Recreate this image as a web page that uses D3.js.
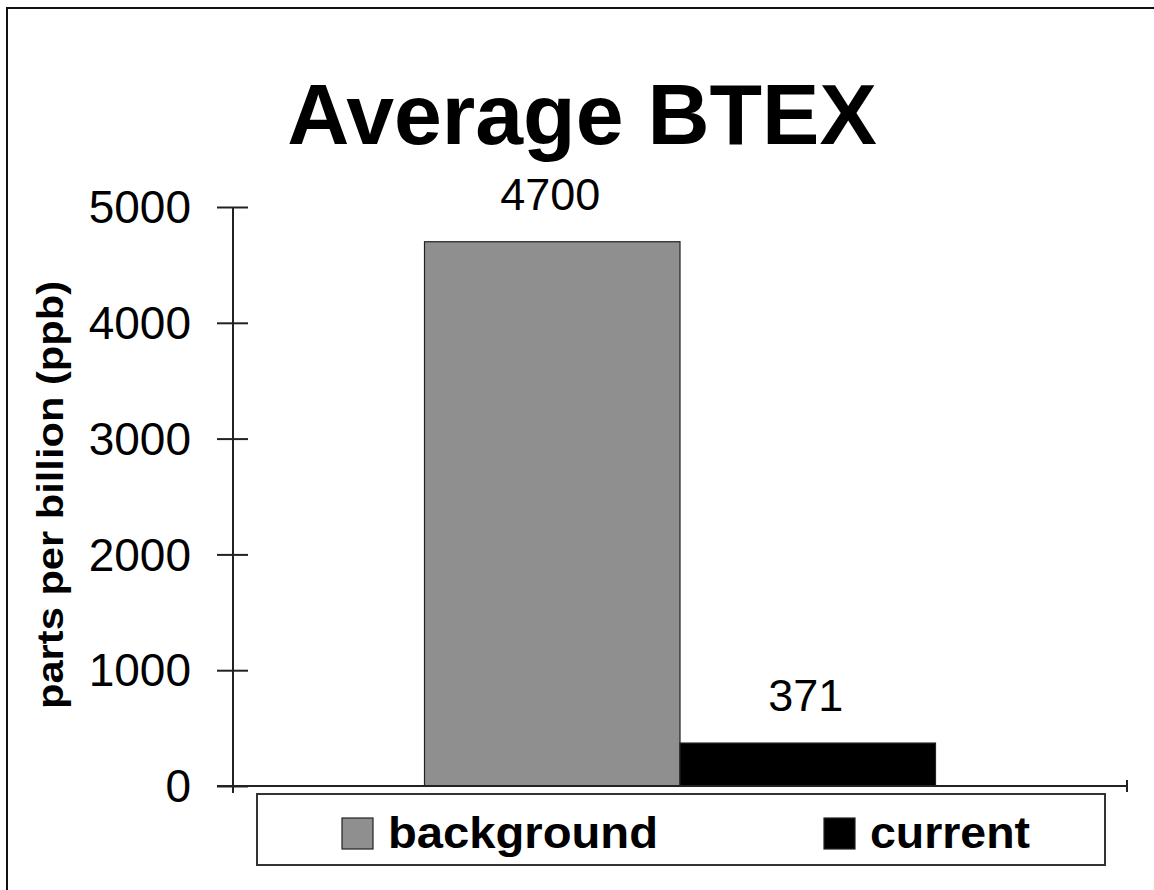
<!DOCTYPE html>
<html>
<head>
<meta charset="utf-8">
<script src="https://cdn.jsdelivr.net/npm/d3@7"></script>
<style>
  html, body { margin: 0; padding: 0; background: #fff; }
  svg { display: block; font-family: "Liberation Sans", Arial, sans-serif; }
</style>
</head>
<body>
<svg id="chart" width="1154" height="890"></svg>
<script>
const title = "Average BTEX";
const yAxisLabel = "parts per billion (ppb)";
const categories = [""];
const series = ["background", "current"];
const values = [4700, 371];
const seriesColors = ["#8f8f8f", "#000000"];
const yTicks = [0, 1000, 2000, 3000, 4000, 5000];

const svg = d3.select("#chart");
const W = 1154, H = 890;
const plot = { left: 233, right: 1127, top: 207, bottom: 786 };

// outer frame (only top & left visible)
svg.append("rect").attr("x", 7).attr("y", 8).attr("width", W + 20).attr("height", H + 20)
  .attr("fill", "#fff").attr("stroke", "#111").attr("stroke-width", 2);

const y = d3.scaleLinear().domain([0, 5000]).range([plot.bottom, plot.top]);
const x0 = d3.scaleBand().domain(categories).range([plot.left, plot.right]).padding(0.2726);
const x1 = d3.scaleBand().domain(series).range([0, x0.bandwidth()]).padding(0);
const color = d3.scaleOrdinal().domain(series).range(seriesColors);

// title
svg.append("text").attr("x", 582).attr("y", 144).attr("text-anchor", "middle")
  .attr("font-size", 86).attr("font-weight", "bold").attr("fill", "#000").text(title);

// y axis label
svg.append("text").attr("transform", "translate(63,495) rotate(-90)")
  .attr("text-anchor", "middle").attr("font-size", 37).attr("font-weight", "bold")
  .attr("textLength", 428).attr("lengthAdjust", "spacingAndGlyphs")
  .attr("fill", "#000").text(yAxisLabel);

// bars
const data = series.map((s, i) => ({ s, v: values[i] }));
const g = svg.append("g").attr("transform", `translate(${x0("")},0)`);
g.selectAll("rect").data(data).join("rect")
  .attr("x", d => x1(d.s)).attr("y", d => y(d.v))
  .attr("width", x1.bandwidth()).attr("height", d => y(0) - y(d.v))
  .attr("fill", d => color(d.s)).attr("stroke", "#222").attr("stroke-width", 1.2);
g.selectAll("text.val").data(data).join("text").attr("class", "val")
  .attr("x", d => x1(d.s) + x1.bandwidth() / 2 - 2).attr("y", d => y(d.v) - 32)
  .attr("text-anchor", "middle").attr("font-size", 45).attr("fill", "#000")
  .text(d => d.v);

// y axis
const yAxis = d3.axisLeft(y).tickValues(yTicks).tickSize(16).tickPadding(26).tickFormat(d3.format("d"));
const yg = svg.append("g").attr("transform", `translate(${plot.left},0)`).call(yAxis);
yg.select(".domain").attr("d", `M0,${plot.top}V${plot.bottom + 7}`).attr("stroke", "#222").attr("stroke-width", 2);
yg.selectAll(".tick line").attr("x1", 15).attr("stroke", "#222").attr("stroke-width", 2);
yg.selectAll(".tick text").attr("font-size", 46).attr("fill", "#000").attr("font-family", "Liberation Sans, Arial, sans-serif")
  .attr("dy", "0.34em");

// x axis
const xEdge = d3.scaleLinear().domain([0, 1]).range([plot.left, plot.right]);
const xg = svg.append("g");
xg.append("line").attr("x1", plot.left - 16).attr("x2", xEdge(1))
  .attr("y1", y(0)).attr("y2", y(0)).attr("stroke", "#222").attr("stroke-width", 2);
xg.append("line").attr("x1", xEdge(1)).attr("x2", xEdge(1))
  .attr("y1", y(0) - 6).attr("y2", y(0) + 6).attr("stroke", "#222").attr("stroke-width", 2);

// legend
const lg = svg.append("g");
lg.append("rect").attr("x", 257).attr("y", 794).attr("width", 848).attr("height", 71)
  .attr("fill", "#fff").attr("stroke", "#333").attr("stroke-width", 2);
const legendX = [342, 824];
const legendTextLen = [270, 160];
series.forEach((s, i) => {
  lg.append("rect").attr("x", legendX[i]).attr("y", 818).attr("width", 31).attr("height", 31)
    .attr("fill", color(s)).attr("stroke", "#222").attr("stroke-width", 1.2);
  lg.append("text").attr("x", legendX[i] + 46).attr("y", 848)
    .attr("font-size", 45).attr("font-weight", "bold").attr("fill", "#000")
    .attr("textLength", legendTextLen[i]).attr("lengthAdjust", "spacingAndGlyphs").text(s);
});
</script>
</body>
</html>
